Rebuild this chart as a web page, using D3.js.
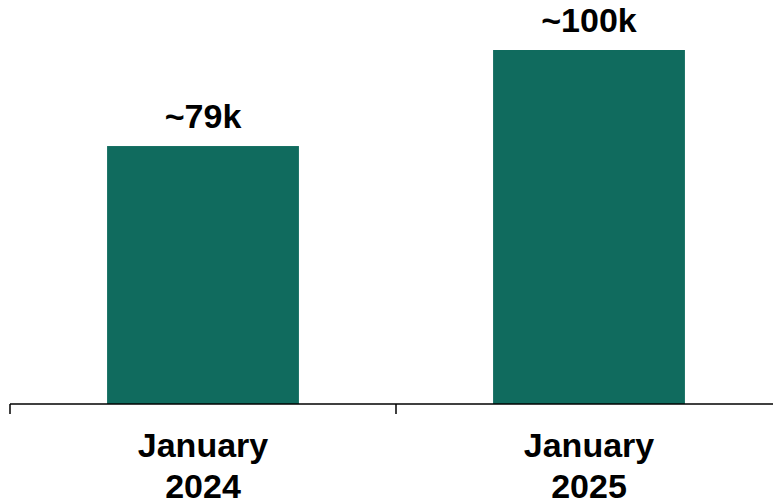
<!DOCTYPE html>
<meta charset="utf-8">
<script src="https://d3js.org/d3.v7.min.js"></script>
<style>
  body { margin: 0; background: #fff; }
  text { font-family: "Liberation Sans", Arial, sans-serif; font-weight: bold; fill: #000; }
</style>
<div id="chart"></div>
<script>
    // data
    const categories = ["January 2024", "January 2025"];
    const values = [79, 100];
    const valueLabels = ["~79k", "~100k"];

    const width = 773, height = 502;
    const axisY = 404;

    const svg = d3.select("#chart")
        .append("svg")
        .attr("width", width)
        .attr("height", height);

    // x: one band per category, ticks at band edges
    const x = d3.scaleBand()
        .domain(categories)
        .range([10, 782])
        .padding(0);

    // y does not start at zero in the original
    const y = d3.scaleLinear()
        .domain([22.6, 100])
        .range([axisY, 50]);

    const barW = x.bandwidth() * 0.497;

    svg.selectAll(".bar")
        .data(categories)
        .enter()
        .append("rect")
        .attr("class", "bar")
        .attr("x", (d) => x(d) + (x.bandwidth() - barW) / 2)
        .attr("y", (d, i) => y(values[i]))
        .attr("width", barW)
        .attr("height", (d, i) => axisY - y(values[i]))
        .attr("fill", "#106b5e");

    svg.selectAll(".lbl")
        .data(categories)
        .enter()
        .append("text")
        .attr("class", "lbl")
        .attr("x", (d) => x(d) + x.bandwidth() / 2)
        .attr("y", (d, i) => y(values[i]) - 18.5)
        .attr("text-anchor", "middle")
        .style("font-size", "34px")
        .text((d, i) => valueLabels[i]);

    // axis line + ticks at band boundaries
    const g = svg.append("g");
    g.append("line")
        .attr("x1", 10).attr("x2", 782)
        .attr("y1", axisY).attr("y2", axisY)
        .attr("stroke", "#000").attr("stroke-width", 1.5);
    const edges = [x(categories[0]), x(categories[1]), x(categories[1]) + x.bandwidth()];
    g.selectAll(".tick")
        .data(edges)
        .enter()
        .append("line")
        .attr("x1", (d) => d).attr("x2", (d) => d)
        .attr("y1", axisY).attr("y2", axisY + 10)
        .attr("stroke", "#000").attr("stroke-width", 1.5);

    // category labels on two lines
    const cat = svg.selectAll(".cat")
        .data(categories)
        .enter()
        .append("text")
        .attr("class", "cat")
        .attr("text-anchor", "middle")
        .style("font-size", "34px");
    cat.selectAll("tspan")
        .data((d) => d.split(" ").map((w) => ({ w: w, c: d })))
        .enter()
        .append("tspan")
        .attr("x", (d) => x(d.c) + x.bandwidth() / 2)
        .attr("y", (d, i) => 457 + i * 41)
        .text((d) => d.w);
</script>
